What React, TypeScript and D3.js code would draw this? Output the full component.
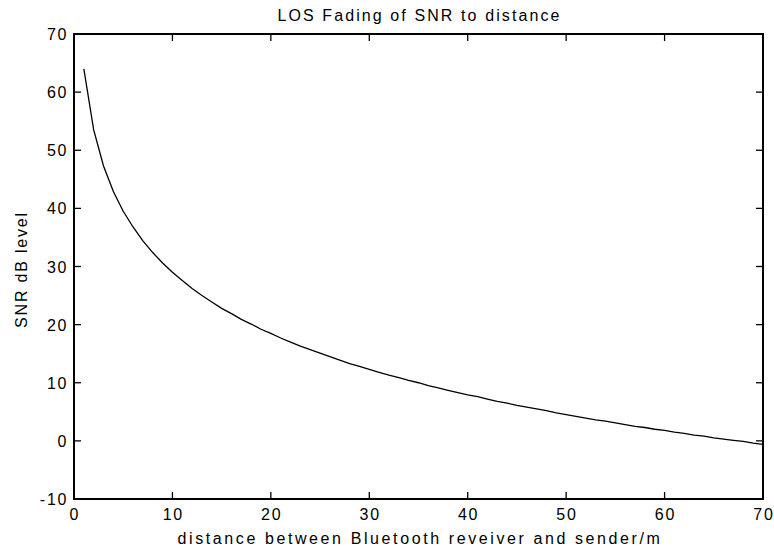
import React from "react";
import * as d3 from "d3";

const distance: number[] = [
  1, 2, 3, 4, 5, 6, 7, 8, 9, 10, 11, 12, 13, 14, 15, 16, 17, 18, 19, 20,
  21, 22, 23, 24, 25, 26, 27, 28, 29, 30, 31, 32, 33, 34, 35, 36, 37, 38, 39, 40,
  41, 42, 43, 44, 45, 46, 47, 48, 49, 50, 51, 52, 53, 54, 55, 56, 57, 58, 59, 60,
  61, 62, 63, 64, 65, 66, 67, 68, 69, 70,
];
const snr: number[] = [
  64.0, 53.5, 47.3, 42.9, 39.5, 36.8, 34.4, 32.4, 30.6, 29.0,
  27.6, 26.2, 25.0, 23.9, 22.8, 21.9, 20.9, 20.1, 19.2, 18.5,
  17.7, 17.0, 16.3, 15.7, 15.1, 14.5, 13.9, 13.3, 12.8, 12.3,
  11.8, 11.3, 10.9, 10.4, 10.0, 9.5, 9.1, 8.7, 8.3, 7.9,
  7.6, 7.2, 6.8, 6.5, 6.1, 5.8, 5.5, 5.2, 4.8, 4.5,
  4.2, 3.9, 3.6, 3.4, 3.1, 2.8, 2.5, 2.3, 2.0, 1.8,
  1.5, 1.3, 1.0, 0.8, 0.5, 0.3, 0.1, -0.1, -0.4, -0.6,
];
const xTicks: number[] = [0, 10, 20, 30, 40, 50, 60, 70];
const yTicks: number[] = [-10, 0, 10, 20, 30, 40, 50, 60, 70];

const title = "LOS Fading of SNR to distance";
const xLabel = "distance between Bluetooth reveiver and sender/m";
const yLabel = "SNR dB level";

export default function App() {
  const W = 774, H = 551;
  const left = 74, right = 763, top = 34, bottom = 499;
  const x = d3.scaleLinear().domain([0, 70]).range([left, right]);
  const y = d3.scaleLinear().domain([-10, 70]).range([bottom, top]);
  const line = d3
    .line<number>()
    .x((_, i) => x(distance[i]))
    .y((d) => y(d));
  const font = "Liberation Sans, Arial, Helvetica, sans-serif";
  const tl = 7;
  const fs = 16;
  const ls = 1.8;
  return (
    <svg
      width={W}
      height={H}
      style={{ position: "absolute", left: 0, top: 0, background: "#fff" }}
      fontFamily={font}
    >
      <rect x={0} y={0} width={W} height={H} fill="#fff" />
      {xTicks.map((t) => (
        <g key={"x" + t}>
          <line x1={x(t)} x2={x(t)} y1={bottom} y2={bottom - tl} stroke="#000" strokeWidth={1.3} />
          <line x1={x(t)} x2={x(t)} y1={top} y2={top + tl} stroke="#000" strokeWidth={1.3} />
          <text x={x(t) + ls / 2} y={bottom + 21} textAnchor="middle" fontSize={fs} letterSpacing={ls}>
            {t}
          </text>
        </g>
      ))}
      {yTicks.map((t) => (
        <g key={"y" + t}>
          <line x1={left} x2={left + tl} y1={y(t)} y2={y(t)} stroke="#000" strokeWidth={1.3} />
          <line x1={right} x2={right - tl} y1={y(t)} y2={y(t)} stroke="#000" strokeWidth={1.3} />
          <text x={left - 7.5 + ls} y={y(t) + 6} textAnchor="end" fontSize={fs} letterSpacing={ls}>
            {t}
          </text>
        </g>
      ))}
      <rect
        x={left}
        y={top}
        width={right - left}
        height={bottom - top}
        fill="none"
        stroke="#000"
        strokeWidth={2}
      />
      <path d={line(snr) || ""} fill="none" stroke="#000" strokeWidth={1.3} />
      <text x={(left + right) / 2 + 1} y={20.5} textAnchor="middle" fontSize={fs} letterSpacing={2.1}>
        {title}
      </text>
      <text x={(left + right) / 2 + 1.5} y={544} textAnchor="middle" fontSize={fs} letterSpacing={2.6}>
        {xLabel}
      </text>
      <text
        transform={`translate(26.5, ${(top + bottom) / 2 + 3}) rotate(-90)`}
        textAnchor="middle"
        fontSize={fs}
        letterSpacing={ls}
      >
        {yLabel}
      </text>
    </svg>
  );
}
